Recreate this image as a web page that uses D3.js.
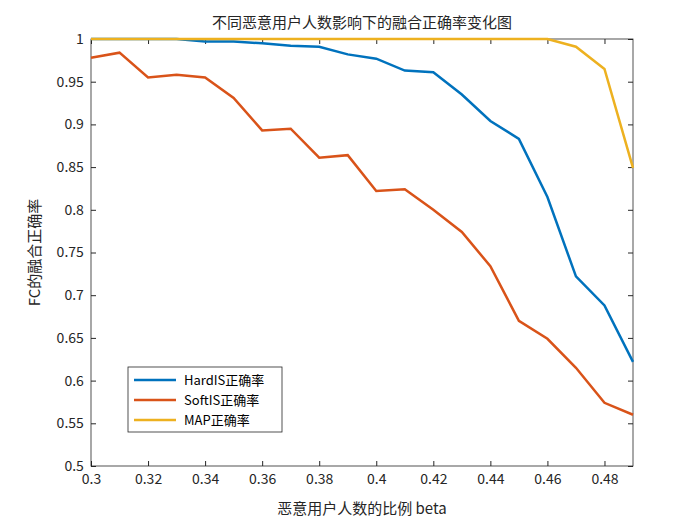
<!DOCTYPE html>
<html><head><meta charset="utf-8">
<script src="https://cdn.jsdelivr.net/npm/d3@7"></script>
<style>body{margin:0;background:#fff}text{font-family:"Noto Sans CJK SC","Liberation Sans",sans-serif}</style>
</head><body><svg id="c" width="700" height="525"></svg>
<script>
// chart data
var beta = [0.30,0.31,0.32,0.33,0.34,0.35,0.36,0.37,0.38,0.39,0.40,0.41,0.42,0.43,0.44,0.45,0.46,0.47,0.48,0.49];
var hardIS = [1,1,1,1,0.997,0.997,0.995,0.992,0.991,0.982,0.977,0.963,0.961,0.935,0.904,0.883,0.815,0.722,0.688,0.622];
var softIS = [0.978,0.984,0.955,0.958,0.955,0.931,0.893,0.895,0.861,0.864,0.822,0.824,0.800,0.774,0.734,0.670,0.649,0.615,0.574,0.560];
var mapAcc = [1,1,1,1,1,1,1,1,1,1,1,1,1,1,1,1,1,0.991,0.965,0.849];
var xTicks = [0.3,0.32,0.34,0.36,0.38,0.4,0.42,0.44,0.46,0.48];
var yTicks = [0.5,0.55,0.6,0.65,0.7,0.75,0.8,0.85,0.9,0.95,1];
var names = ["HardIS正确率","SoftIS正确率","MAP正确率"];
var colors = ["#0072BD","#D95319","#EDB120"];

let svg = d3.select("#c");
let L = 91, R = 633, T = 39, B = 466;
let x = d3.scaleLinear().domain([0.3,0.49]).range([L,R]);
let y = d3.scaleLinear().domain([0.5,1]).range([B,T]);

// axes with inward ticks, MATLAB style
let fmt = d => String(+d.toFixed(2)).replace(/^0(?=\.)/,"0");
let ax = [
  [d3.axisBottom(x).tickValues(xTicks).tickSizeInner(-5), B],
  [d3.axisTop(x).tickValues(xTicks).tickSizeInner(-5).tickFormat(""), T]
];
ax.forEach(([a,pos]) => {
  let g = svg.append("g").attr("transform","translate(0,"+pos+")").call(a.tickSizeOuter(0).tickFormat(a.tickFormat() === null ? fmt : a.tickFormat()));
  g.select(".domain").remove();
  g.selectAll("line").attr("stroke","#262626");
  g.selectAll("text").attr("font-size",14).attr("fill","#262626").attr("dy","1.1em");
});
[[d3.axisLeft(y).tickValues(yTicks).tickSizeInner(-5).tickFormat(fmt), L],
 [d3.axisRight(y).tickValues(yTicks).tickSizeInner(-5).tickFormat(""), R]].forEach(([a,pos]) => {
  let g = svg.append("g").attr("transform","translate("+pos+",0)").call(a.tickSizeOuter(0));
  g.select(".domain").remove();
  g.selectAll("line").attr("stroke","#262626");
  g.selectAll("text").attr("font-size",14).attr("fill","#262626").attr("dx","-0.3em");
});
svg.append("rect").attr("x",L).attr("y",T).attr("width",R-L).attr("height",B-T)
  .attr("fill","none").attr("stroke","#262626").attr("stroke-width",0.8);

// lines
let line = d3.line().x((d,i) => x(beta[i])).y(d => y(d));
[hardIS, softIS, mapAcc].forEach((s,k) => {
  svg.append("path").datum(s).attr("d",line).attr("fill","none")
    .attr("stroke",colors[k]).attr("stroke-width",2.5);
});

// title and labels
svg.append("text").attr("x",(L+R)/2).attr("y",28).attr("text-anchor","middle")
  .attr("font-size",15).attr("fill","#262626").text("不同恶意用户人数影响下的融合正确率变化图");
svg.append("text").attr("x",(L+R)/2).attr("y",514).attr("text-anchor","middle")
  .attr("font-size",15).attr("fill","#262626").text("恶意用户人数的比例 beta");
svg.append("text").attr("transform","translate(40,"+((T+B)/2)+") rotate(-90)").attr("text-anchor","middle")
  .attr("font-size",15).attr("fill","#262626").text("FC的融合正确率");

// legend
let lg = svg.append("g").attr("transform","translate(128,367)");
lg.append("rect").attr("width",154).attr("height",65).attr("fill","#fff").attr("stroke","#262626").attr("stroke-width",0.8);
names.forEach((n,i) => {
  let yy = 13 + i*20;
  lg.append("line").attr("x1",6).attr("x2",48).attr("y1",yy).attr("y2",yy).attr("stroke",colors[i]).attr("stroke-width",2.5);
  lg.append("text").attr("x",56).attr("y",yy+5).attr("font-size",13).attr("fill","#000").text(n);
});
</script></body></html>
